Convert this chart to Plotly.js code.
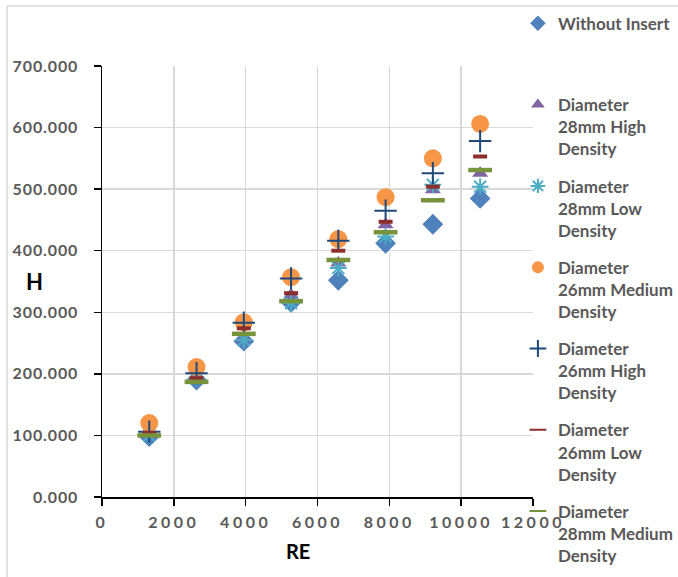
<!DOCTYPE html>
<html><head><meta charset="utf-8">
<script src="https://cdn.plot.ly/plotly-3.0.1.min.js"></script>
<style>
body{margin:0;background:#fff}
.xtick text{letter-spacing:3.5px}
.ytick text{letter-spacing:0.9px}
</style></head>
<body><div id="chart" style="width:678px;height:577px"></div>
<script>
const re = [1316, 2632, 3948, 5264, 6580, 7896, 9212, 10528];
const withoutInsert = [98, 190, 253, 316, 352, 412, 443, 485];
const d28High = [104, 196, 258, 328, 380, 442, 499, 526];
const d28Low = [100, 193, 255, 315, 372, 423, 507, 504];
const d26Medium = [120, 211, 284, 357, 419, 487, 550, 606];
const d26High = [106, 201, 283, 355, 416, 465, 526, 578];
const d26Low = [104, 193, 274, 331, 400, 447, 504, 553];
const d28Medium = [100, 187, 265, 318, 385, 430, 482, 531];
const seriesNames = [
  "Without Insert<br> <br> ",
  "Diameter<br>28mm High<br>Density",
  "Diameter<br>28mm Low<br>Density",
  "Diameter<br>26mm Medium<br>Density",
  "Diameter<br>26mm High<br>Density",
  "Diameter<br>26mm Low<br>Density",
  "Diameter<br>28mm Medium<br>Density"
];
const seriesValues = [withoutInsert, d28High, d28Low, d26Medium, d26High, d26Low, d28Medium];
const markers = [
  {symbol: "diamond", size: 16, color: "#4f81bd"},
  {symbol: "triangle-up", size: 14, color: "#8064a2"},
  {symbol: "asterisk-open", size: 14, color: "#4bacc6", line: {color: "#4bacc6", width: 2}},
  {symbol: "circle", size: 18, color: "#f79646"},
  {symbol: "cross-thin-open", size: 16, color: "#1f497d", line: {color: "#1f497d", width: 2}},
  {symbol: "line-ew-open", size: 10, color: "#8c2f2c", line: {color: "#8c2f2c", width: 4}},
  {symbol: "line-ew-open", size: 17, color: "#77933c", line: {color: "#77933c", width: 4.5}}
];
const data = seriesNames.map((n, i) => ({
  type: "scatter", mode: "markers", x: re, y: seriesValues[i], name: n,
  legendgroup: "g" + i, marker: markers[i]
}));
const tickFont = {family: "Lato, sans-serif", size: 16, color: "#595959", weight: "bold"};
const layout = {
  width: 678, height: 577,
  margin: {l: 102, r: 145, t: 66, b: 80, autoexpand: false},
  paper_bgcolor: "#fff", plot_bgcolor: "#fff",
  showlegend: true,
  legend: {
    x: 0.965, xanchor: "left", xref: "paper",
    yref: "container", y: 0.99, yanchor: "top",
    maxheight: 1, itemsizing: "constant",
    font: {family: "Lato, sans-serif", size: 17, color: "#595959", weight: "bold"},
    valign: "top", tracegroupgap: 12, bgcolor: "rgba(0,0,0,0)"
  },
  xaxis: {
    range: [0, 12000], dtick: 2000, tick0: 0, tickformat: "d",
    showgrid: true, gridcolor: "#d9d9d9", gridwidth: 1.5,
    showline: true, linecolor: "#000", linewidth: 1.5,
    ticks: "outside", ticklen: 7, tickcolor: "#000", tickwidth: 1.5,
    tickfont: tickFont, zeroline: false, ticklabelstandoff: 3
  },
  yaxis: {
    range: [0, 700], dtick: 100, tick0: 0, tickformat: ".3f",
    showgrid: true, gridcolor: "#d9d9d9", gridwidth: 1.5,
    showline: true, linecolor: "#000", linewidth: 1.5,
    ticks: "outside", ticklen: 7, tickcolor: "#000", tickwidth: 1.5,
    tickfont: tickFont, zeroline: false, ticklabelstandoff: 12
  },
  annotations: [
    {text: "H", xref: "paper", yref: "paper", x: -0.1555, y: 0.501, showarrow: false,
     xanchor: "center", yanchor: "middle",
     font: {family: "Lato, sans-serif", size: 22, color: "#000", weight: "bold"}},
    {text: "RE", xref: "paper", yref: "paper", x: 0.4548, y: -0.125, showarrow: false,
     xanchor: "center", yanchor: "middle",
     font: {family: "Lato, sans-serif", size: 20, color: "#000", weight: "bold"}}
  ],
  shapes: [
    {type: "line", xref: "paper", yref: "paper", x0: -0.2204, x1: -0.2204, y0: -0.19, y1: 1.1392,
     line: {color: "#d9d9d9", width: 1.5}},
    {type: "line", xref: "paper", yref: "paper", x0: -0.2204, x1: 1.34, y0: 1.1392, y1: 1.1392,
     line: {color: "#d9d9d9", width: 1.5}}
  ]
};
Plotly.newPlot("chart", data, layout, {displayModeBar: false, staticPlot: true});
</script>
</body></html>
